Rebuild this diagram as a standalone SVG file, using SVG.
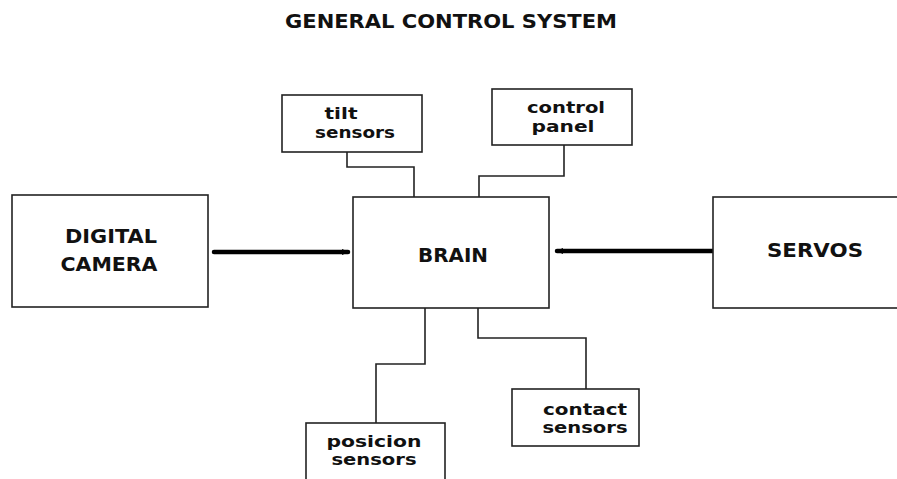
<svg xmlns="http://www.w3.org/2000/svg" width="897" height="479" viewBox="0 0 897 479">
<defs>
<style>
.box{fill:#fff;stroke:#222;stroke-width:1.6}
.cap{font-family:"DejaVu Sans","Liberation Sans",sans-serif;font-weight:bold;font-size:20px;fill:#111;text-anchor:middle}
.low{font-family:"DejaVu Sans","Liberation Sans",sans-serif;font-weight:bold;font-size:16px;fill:#111;text-anchor:middle}
.wire{fill:none;stroke:#222;stroke-width:1.6}
.bus{fill:none;stroke:#000;stroke-width:4.5;stroke-linecap:round}
</style>
<marker id="tip" markerWidth="7" markerHeight="7" refX="6" refY="3.5" orient="auto" markerUnits="userSpaceOnUse">
<path d="M0,0.5 L7,3.5 L0,6.5 Z" fill="#000"/>
</marker>
</defs>
<rect width="897" height="479" fill="#fff"/>
<text x="451" y="28" class="cap" font-size="19" textLength="332" lengthAdjust="spacingAndGlyphs">GENERAL CONTROL SYSTEM</text>

<g id="connectors">
<line class="bus" x1="214" y1="252" x2="348" y2="252" marker-end="url(#tip)"/>
<line class="bus" x1="713" y1="251" x2="557" y2="251" marker-end="url(#tip)"/>
<polyline class="wire" points="347,152 347,167 414,167 414,197"/>
<polyline class="wire" points="564,145 564,176 479,176 479,197"/>
<polyline class="wire" points="425,308 425,364 376,364 376,423"/>
<polyline class="wire" points="478,308 478,338 586,338 586,389"/>
</g>

<g id="camera">
<rect class="box" x="12" y="195" width="196" height="112"/>
<text x="111" y="243" class="cap" textLength="92" lengthAdjust="spacingAndGlyphs">DIGITAL</text>
<text x="109" y="271" class="cap" textLength="97" lengthAdjust="spacingAndGlyphs">CAMERA</text>
</g>

<g id="brain">
<rect class="box" x="353" y="197" width="196" height="111"/>
<text x="453" y="262" class="cap" textLength="70" lengthAdjust="spacingAndGlyphs">BRAIN</text>
</g>

<g id="servos">
<rect class="box" x="713" y="197" width="200" height="111"/>
<text x="815" y="257" class="cap" textLength="96" lengthAdjust="spacingAndGlyphs">SERVOS</text>
</g>

<g id="tilt">
<rect class="box" x="282" y="95" width="140" height="57"/>
<text x="341" y="119" class="low" font-size="18" textLength="33" lengthAdjust="spacingAndGlyphs">tilt</text>
<text x="355" y="138" class="low" font-size="18" textLength="80" lengthAdjust="spacingAndGlyphs">sensors</text>
</g>

<g id="control">
<rect class="box" x="492" y="89" width="140" height="56"/>
<text x="566" y="113" class="low" font-size="18" textLength="78" lengthAdjust="spacingAndGlyphs">control</text>
<text x="563" y="132" class="low" font-size="18" textLength="63" lengthAdjust="spacingAndGlyphs">panel</text>
</g>

<g id="posicion">
<rect class="box" x="306" y="423" width="139" height="70"/>
<text x="374" y="447" class="low" textLength="95" lengthAdjust="spacingAndGlyphs">posicion</text>
<text x="374" y="465" class="low" textLength="85" lengthAdjust="spacingAndGlyphs">sensors</text>
</g>

<g id="contact">
<rect class="box" x="512" y="389" width="127" height="57"/>
<text x="585" y="415" class="low" textLength="84" lengthAdjust="spacingAndGlyphs">contact</text>
<text x="585" y="433" class="low" textLength="85" lengthAdjust="spacingAndGlyphs">sensors</text>
</g>
</svg>
